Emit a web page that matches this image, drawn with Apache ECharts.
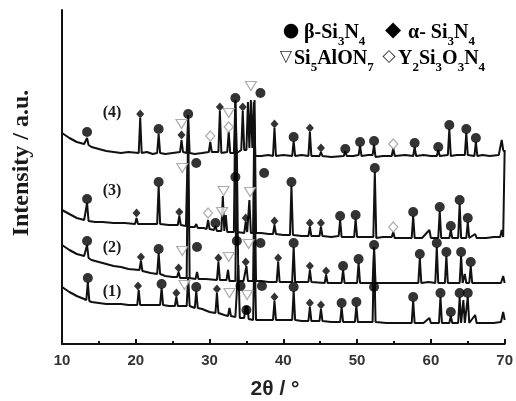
<!DOCTYPE html>
<html><head><meta charset="utf-8">
<script src="https://cdn.jsdelivr.net/npm/echarts@6/dist/echarts.min.js"></script>
<style>html,body{margin:0;padding:0;background:#fff}#c{width:516px;height:401px}</style>
</head><body><div id="c"></div>
<script>
// 2θ range and tick labels
const xTicks = [10, 20, 30, 40, 50, 60, 70];
const patternNames = ['(1)', '(2)', '(3)', '(4)'];

// XRD patterns: [2θ, intensity (a.u., stacked offsets included)]
const pattern4 = [[10,211],[11,206],[12,202],[13,200],[13.2,200],[13.4,206],[13.6,199],[14,197],[15,195],[16,193],[17,192],[18,191],[19,192],[20.4,191],[20.6,226],[20.8,191],[21.5,192],[22.3,190],[22.9,191],[23.1,210],[23.3,191],[24,190],[25,191],[26,192],[26.2,204],[26.4,192],[26.9,191],[27.1,226],[27.3,191],[28,190],[29,191],[29.9,192],[30.1,202],[30.3,192],[31.2,192],[31.4,233],[31.6,191],[32.4,192],[32.6,212],[32.8,191],[33.3,191],[33.5,242],[33.7,191],[34.3,194],[34.5,233],[34.7,194],[35.0,194],[35.2,242],[35.4,196],[35.6,244],[35.8,196],[36.0,242],[36.2,188],[37,188],[38,189],[38.6,188],[38.8,216],[39.0,188],[40,189],[41.2,188],[41.4,203],[41.6,188],[42.5,189],[43.4,188],[43.6,212],[43.8,188],[44.9,188],[45.1,192],[45.3,188],[46.5,187],[48.2,188],[48.4,193],[48.6,188],[49.5,188],[50.2,189],[50.4,198],[50.6,188],[51.5,189],[52.1,189],[52.3,199],[52.5,187],[53.5,188],[54.7,188],[54.9,196],[55.1,188],[56.5,189],[57.6,188],[57.8,197],[58.0,188],[59,189],[60,188],[60.8,188],[61.0,194],[61.2,188],[62.3,189],[62.5,215],[62.7,188],[63.5,189],[64.6,189],[64.8,211],[65.0,189],[65.9,188],[66.1,202],[66.3,188],[67,189],[68,188],[69.2,189],[69.6,204],[69.8,194],[70,192]];
const pattern3 = [[10,134],[11,130],[12,126],[13,124],[13.2,124],[13.4,141],[13.6,123],[14.5,122],[15.5,122],[17,121],[18.5,121],[19.9,120],[20.1,126],[20.3,120],[21.5,120],[22.9,120],[23.1,158],[23.3,120],[24.5,119],[25.7,119],[25.9,128],[26.1,119],[26.8,118],[27.0,179],[27.2,117],[28.0,117],[28.2,120],[28.4,116],[29.2,116],[29.6,115],[29.8,124],[30.0,115],[30.6,114],[30.8,118],[31.0,113],[31.6,113],[31.8,148],[32.0,113],[32.2,129],[32.4,112],[33.3,112],[33.5,244],[33.7,112],[34.7,111],[34.9,122],[35.1,112],[35.3,111],[35.4,144],[35.6,111],[35.9,111],[36.1,244],[36.3,111],[37,111],[38,110],[38.6,110],[38.8,119],[39.0,110],[40,109],[40.9,109],[41.1,158],[41.3,109],[42.5,108],[43.4,108],[43.6,117],[43.8,108],[44.9,108],[45.1,117],[45.3,108],[46.5,107],[47.5,108],[47.7,124],[47.9,107],[49.0,107],[49.6,107],[49.8,125],[50.0,107],[51,107],[52.2,107],[52.4,172],[52.6,106],[53.5,107],[54.7,107],[54.9,112],[55.1,106],[56.5,106],[57.4,106],[57.6,128],[57.8,106],[58.8,106],[59.8,114],[60.0,106],[61.0,106],[61.2,133],[61.4,106],[62.5,106],[62.7,114],[62.9,106],[63.7,106],[63.9,140],[64.1,106],[64.8,106],[65.0,122],[65.2,106],[66.0,110],[66.2,106],[67.5,106],[68.5,107],[69.4,107],[69.6,114],[69.8,107],[70,194]];
const pattern2 = [[10,99],[11,94],[12,90],[13,88],[13.2,87],[13.4,99],[13.6,86],[14,84],[15,82],[16,80],[17,78],[18,77],[19,75],[20.5,74],[20.7,83],[20.9,73],[22,71],[22.9,70],[23.1,91],[23.3,70],[24,68],[25,67],[25.6,67],[25.8,72],[26.0,66],[26.9,66],[27.1,229],[27.3,66],[28.1,65],[28.3,72],[28.5,65],[29.5,65],[31.0,64],[31.2,82],[31.4,64],[32.3,64],[32.5,74],[32.7,63],[33.5,63],[33.7,194],[33.9,63],[34.6,63],[35.0,78],[35.2,63],[35.9,63],[36.1,169],[36.3,63],[37,63],[38,62],[39.1,62],[39.3,82],[39.5,62],[40.5,62],[41.2,62],[41.4,97],[41.6,62],[42.5,62],[43.4,62],[43.6,74],[43.8,62],[45.6,61],[45.8,69],[46.0,61],[47.9,61],[48.1,74],[48.3,61],[50.0,61],[50.2,81],[50.4,61],[51.5,61],[52.1,61],[52.3,94],[52.5,61],[54,61],[55.5,61],[57,61],[58.3,61],[58.5,86],[58.7,61],[59.7,62],[60.6,61],[60.8,97],[61.0,61],[61.9,61],[62.1,88],[62.3,61],[63.9,61],[64.1,88],[64.3,61],[64.6,70],[64.8,61],[65.2,61],[65.4,78],[65.6,61],[66.5,61],[67.5,61],[68.5,61],[69.5,61],[69.8,68],[70,61]];
const pattern1 = [[10,57],[11,52],[12,48],[13,45],[13.3,44],[13.5,62],[13.7,43],[14,42],[15,41],[16,40],[17,40],[18,40],[19,39],[20.2,39],[20.4,54],[20.6,39],[21.5,39],[22.5,39],[23.3,39],[23.5,56],[23.7,39],[24.5,38],[25.3,38],[25.5,47],[25.7,38],[26.5,38],[26.9,38],[27.1,67],[27.3,38],[28.0,36],[28.2,53],[28.4,36],[29,35],[30,32],[30.8,31],[31.0,51],[31.2,31],[32,29],[32.5,28],[32.7,36],[32.9,28],[33.5,27],[33.9,79],[34.1,26],[34.7,26],[34.85,38],[35.0,30],[35.15,38],[35.3,25],[35.9,24],[36.1,99],[36.3,24],[37,24],[38,24],[38.6,24],[38.8,43],[39.0,24],[40,24],[41.2,24],[41.4,53],[41.6,24],[42.5,23],[43.4,23],[43.6,37],[43.8,23],[44.9,23],[45.1,35],[45.3,23],[46.5,22],[47.7,22],[47.9,37],[48.1,22],[49.7,22],[49.9,38],[50.1,22],[51.2,22],[52.1,22],[52.3,97],[52.5,22],[54,21],[55.5,21],[57.4,21],[57.6,43],[57.8,21],[59,21],[59.8,26],[60.0,21],[61.1,21],[61.3,47],[61.5,21],[62.5,21],[62.7,28],[62.9,21],[63.7,21],[63.9,47],[64.1,21],[64.4,44],[64.6,21],[64.8,21],[65.0,47],[65.2,21],[66.0,29],[66.2,21],[67.5,21],[68.5,21],[69.5,22],[69.8,32],[70,24]];

// Phase markers [2θ, intensity]
const betaMarks = [[13.4,212],[23.1,215],[27.1,230],[33.5,246],[36.9,251],[41.4,207],[48.4,195],[50.4,202],[52.3,203],[57.8,201],[61.0,197],[62.5,219],[64.8,215],[66.1,206],
  [13.4,145],[23.1,162],[28.2,181],[30.8,121],[33.5,167],[37.4,171],[41.1,162],[47.7,128],[49.8,129],[52.4,176],[57.6,132],[61.2,137],[62.7,118],[63.9,144],[65.0,126],
  [13.4,103],[23.1,95],[28.3,97],[33.7,103],[36.9,101],[41.4,101],[48.1,78],[50.2,85],[52.3,99],[58.5,90],[60.8,101],[62.1,92],[64.1,92],[65.4,82],
  [13.5,66],[23.5,60],[28.2,57],[34.2,58],[35.0,34],[37.1,58],[41.4,57],[47.9,41],[49.9,42],[52.3,57],[57.6,47],[61.3,51],[62.7,32],[63.9,51],[65.0,51]];
const alphaMarks = [[20.6,230],[26.2,209],[31.4,237],[34.5,237],[38.8,220],[43.6,216],[45.1,196],
  [20.1,131],[25.9,132],[34.9,126],[38.8,123],[43.6,121],[45.1,121],
  [20.7,87],[25.8,76],[31.2,86],[34.9,82],[39.3,86],[43.6,78],[45.8,73],
  [20.3,58],[25.5,51],[31.0,55],[38.8,47],[43.6,41],[45.1,39]];
const sialonMarks = [[26.2,220],[32.6,231],[35.6,258],
  [26.3,176],[31.9,153],[31.7,132],[35.5,152],
  [26.3,93],[32.6,87],[35.3,100],
  [26.6,59],[32.7,51],[35.1,49]];
const ysnMarks = [[30.1,208],[32.6,217],[54.9,200],[29.8,131],[54.9,117]];

const chart = echarts.init(document.getElementById('c'), null, {renderer: 'canvas'});
const lineSeries = [pattern1, pattern2, pattern3, pattern4].map(d => ({
  type: 'line', data: d, showSymbol: false, symbol: 'none', animation: false,
  lineStyle: {color: '#111', width: 2}, z: 2
}));
const serif = '"Liberation Serif", "DejaVu Serif", serif';
const rich = {
  n: {fontFamily: serif, fontWeight: 'bold', fontSize: 20, color: '#1a1a1a', lineHeight: 24, verticalAlign: 'bottom'},
  s: {fontFamily: serif, fontWeight: 'bold', fontSize: 13, color: '#1a1a1a', lineHeight: 15, verticalAlign: 'bottom', padding: [0,0,-5,0]}
};
function legText(x, y, t) { return {type: 'text', x: x, y: y, style: {text: t, rich: rich}}; }
function legSym(x, y, ch, size, color) {
  return {type: 'text', x: x, y: y, style: {text: ch, font: size + 'px "DejaVu Sans"', fill: color, textAlign: 'center', textVerticalAlign: 'middle'}};
}
const labelPos = [[112, 292], [112, 248], [112, 191], [112, 113]];
chart.setOption({
  animation: false,
  backgroundColor: '#fff',
  grid: {left: 62, right: 10, top: 10, bottom: 57},
  xAxis: {
    type: 'value', min: xTicks[0], max: xTicks[xTicks.length - 1], interval: 10,
    axisLine: {lineStyle: {color: '#111', width: 2}},
    axisTick: {inside: true, length: 5, lineStyle: {color: '#111', width: 2}},
    minorTick: {show: true, splitNumber: 2, length: 3, lineStyle: {color: '#111', width: 2}},
    splitLine: {show: false},
    axisLabel: {fontFamily: '"Liberation Sans", Arial', fontWeight: 'bold', fontSize: 15, color: '#333', margin: 9}
  },
  yAxis: {
    type: 'value', min: 0, max: 334,
    axisLine: {show: true, lineStyle: {color: '#111', width: 2}},
    axisTick: {show: false}, axisLabel: {show: false}, splitLine: {show: false}
  },
  series: lineSeries.concat([
    {type: 'scatter', data: betaMarks, symbol: 'circle', symbolSize: 10, itemStyle: {color: '#000'}, z: 5},
    {type: 'scatter', data: alphaMarks, symbol: 'diamond', symbolSize: [8, 9], itemStyle: {color: '#000'}, z: 5},
    {type: 'scatter', data: sialonMarks, symbol: 'triangle', symbolRotate: 180, symbolSize: [11, 9], itemStyle: {color: '#fff', borderColor: '#999', borderWidth: 1.2}, z: 4},
    {type: 'scatter', data: ysnMarks, symbol: 'diamond', symbolSize: [9, 10], itemStyle: {color: '#fff', borderColor: '#999', borderWidth: 1.2}, z: 4}
  ]),
  graphic: [
    {type: 'text', x: 22, y: 163, rotation: Math.PI / 2, style: {
      text: 'Intensity / a.u.', font: 'bold 24px "Liberation Serif"', fill: '#1a1a1a', textAlign: 'center', textVerticalAlign: 'middle'}},
    {type: 'text', x: 275, y: 389, style: {text: '2θ / °', font: 'bold 21px "Liberation Sans"', fill: '#222', textAlign: 'center', textVerticalAlign: 'middle'}},
    legSym(291, 31, '●', 19, '#000'),
    legText(304, 19, '{n|β-Si}{s|3}{n|N}{s|4}'),
    legSym(393, 31, '◆', 21, '#000'),
    legText(408, 19, '{n|α- Si}{s|3}{n|N}{s|4}'),
    legSym(286, 57, '▽', 16, '#333'),
    legText(294, 45, '{n|Si}{s|5}{n|AlON}{s|7}'),
    legSym(389, 57, '◇', 17, '#333'),
    legText(398, 45, '{n|Y}{s|2}{n|Si}{s|3}{n|O}{s|3}{n|N}{s|4}')
  ].concat(patternNames.map((t, i) => ({
    type: 'text', x: labelPos[i][0], y: labelPos[i][1],
    style: {text: t, font: 'bold 16px "Liberation Serif"', fill: '#1a1a1a', textAlign: 'center', textVerticalAlign: 'middle'}
  })))
});
</script></body></html>
